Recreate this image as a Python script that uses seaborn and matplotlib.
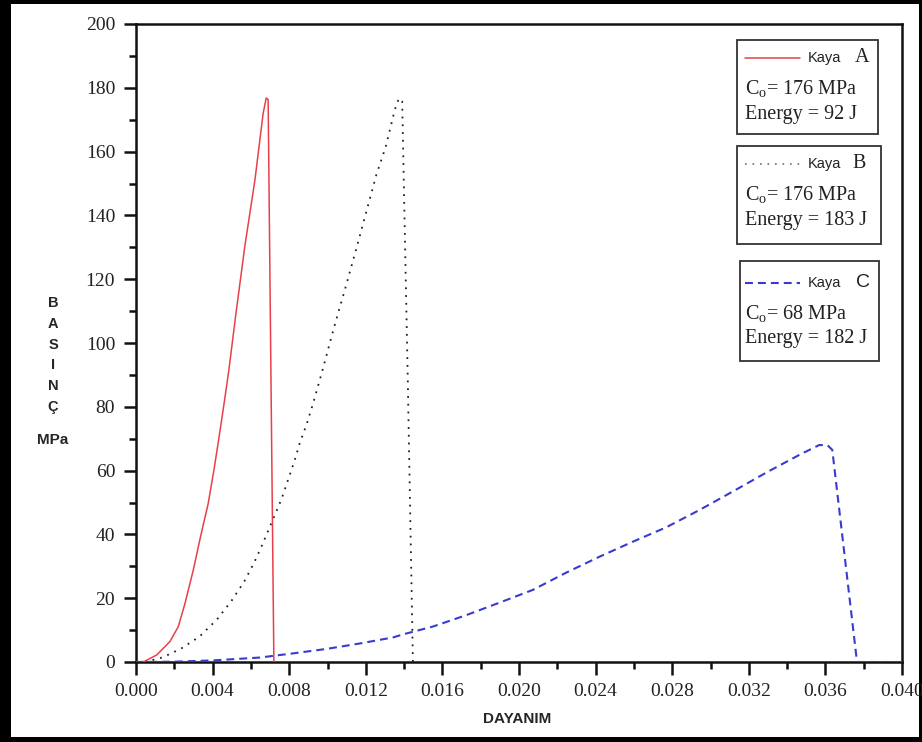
import numpy as np
import pandas as pd
import matplotlib
matplotlib.use("Agg")
import matplotlib.pyplot as plt
import seaborn as sns
from matplotlib.patches import Rectangle
from matplotlib.lines import Line2D
from matplotlib.ticker import MultipleLocator

# Kaya A (red, solid)
strain_a = [0.00038, 0.00108, 0.00177, 0.00221, 0.00256, 0.00299, 0.00337, 0.00377,
            0.00407, 0.00434, 0.00460, 0.00485, 0.00522, 0.00568, 0.00621, 0.00664,
            0.00680, 0.00690, 0.00705, 0.00720]
stress_a = [0, 2.2, 6.4, 11.1, 18.4, 28.8, 39.3, 49.7,
            60.2, 70.6, 81.1, 91.5, 109.3, 130.2, 151.1, 172.0,
            176.8, 176.3, 88.0, 0]

# Kaya B (black, dotted)
strain_b = [0.00047, 0.00142, 0.00238, 0.00330, 0.00421, 0.00499, 0.00565, 0.00615,
            0.00659, 0.00699, 0.00760, 0.00794, 0.00829, 0.00855, 0.00890, 0.00925,
            0.00974, 0.01021, 0.01055, 0.01095, 0.01151, 0.01203, 0.01255, 0.01304,
            0.01351, 0.01373, 0.01390, 0.01419, 0.01446]
stress_b = [0, 1.5, 4.3, 7.9, 13.2, 19.2, 25.2, 30.9,
            36.7, 42.4, 51.1, 57.1, 63.3, 68.6, 74.3, 81.1,
            91.5, 102.0, 109.3, 117.6, 129.7, 141.2, 152.7, 161.5,
            173.0, 176.7, 175.8, 89.0, 0]

# Kaya C (blue, dashed)
strain_c = [0.0, 0.0020, 0.00402, 0.00647, 0.00820, 0.00995, 0.01168, 0.01342,
            0.01403, 0.01550, 0.01725, 0.01898, 0.02072, 0.02246, 0.02420, 0.02594,
            0.02768, 0.02941, 0.03115, 0.03289, 0.03463, 0.03567, 0.03610, 0.03636,
            0.03765, 0.0390, 0.0400]
stress_c = [0, 0.1, 0.5, 1.4, 2.7, 4.1, 5.8, 7.7,
            8.8, 11.1, 14.7, 18.6, 22.6, 28.0, 33.0, 37.7,
            42.2, 47.6, 53.4, 59.3, 64.9, 68.0, 68.0, 66.5,
            0, 0, 0]

legend_kaya = ["A", "B", "C"]
legend_co = ["176", "176", "68"]
legend_energy = ["92", "183", "182"]

sns.set_style("ticks")
plt.rcParams['font.family'] = ['Liberation Serif', 'DejaVu Serif']
plt.rcParams['mathtext.fontset'] = 'custom'
plt.rcParams['mathtext.rm'] = 'Liberation Serif'

W, H = 922, 742
fig = plt.figure(figsize=(W / 100, H / 100), dpi=100)
ax = fig.add_axes([136 / W, 1 - 662 / H, (902 - 136) / W, (662 - 24) / H])

red = '#e8404a'
blue = '#3a3ad0'
dotc = '#202020'

df_a = pd.DataFrame({'x': strain_a, 'y': stress_a})
df_b = pd.DataFrame({'x': strain_b, 'y': stress_b})
df_c = pd.DataFrame({'x': strain_c, 'y': stress_c})

sns.lineplot(data=df_c, x='x', y='y', sort=False, estimator=None, ax=ax,
             color=blue, lw=1.5, linestyle=(0, (3.8, 2.4)), zorder=3)
sns.lineplot(data=df_b, x='x', y='y', sort=False, estimator=None, ax=ax,
             color=dotc, lw=1.3, linestyle=(0, (1, 3.3)), zorder=4)
sns.lineplot(data=df_a, x='x', y='y', sort=False, estimator=None, ax=ax,
             color=red, lw=1.1, zorder=5)

ax.set_xlim(0, 0.040)
ax.set_ylim(0, 200)
ax.xaxis.set_major_locator(MultipleLocator(0.004))
ax.xaxis.set_minor_locator(MultipleLocator(0.002))
ax.yaxis.set_major_locator(MultipleLocator(20))
ax.yaxis.set_minor_locator(MultipleLocator(10))
ax.xaxis.set_major_formatter(matplotlib.ticker.FormatStrFormatter('%.3f'))
ax.set_xlabel('')
ax.set_ylabel('')
for s in ax.spines.values():
    s.set_linewidth(1.8)
    s.set_color('#111111')
ax.tick_params(which='major', direction='out', length=9, width=1.8, labelsize=14,
               colors='#111111', pad=6)
ax.tick_params(which='minor', direction='out', length=5, width=1.8, colors='#111111')
for lab in ax.get_xticklabels() + ax.get_yticklabels():
    lab.set_color('#222222')


def fx(px):
    return px / W


def fy(py):
    return 1 - py / H


# axis titles
fig.text(fx(517), fy(719), 'DAYANIM', family='Liberation Sans', weight='bold',
         fontsize=11, ha='center', va='center')
for i, ch in enumerate(['B', 'A', 'S', 'I', 'N', 'Ç']):
    fig.text(fx(53), fy(303 + i * 20.8), ch, family='Liberation Sans', weight='bold',
             fontsize=10.5, ha='center', va='center')
fig.text(fx(53), fy(440), 'MPa', family='Liberation Sans', weight='bold',
         fontsize=11, ha='center', va='center')

# legend boxes
boxes = [(737, 40, 878, 134), (737, 146, 881, 244), (740, 261, 879, 361)]
line_y = [58, 164, 283]
styles = [dict(color=red, lw=1.1, ls='-'),
          dict(color='#707070', lw=1.2, ls=(0, (1, 3.5))),
          dict(color=blue, lw=1.5, ls=(0, (3.8, 2.4)))]
letter_x = [855, 852, 858]
for i in range(3):
    x0, y0, x1, y1 = boxes[i]
    fig.patches.append(Rectangle((fx(x0), fy(y1)), fx(x1) - fx(x0), fy(y0) - fy(y1),
                                 transform=fig.transFigure, fill=False,
                                 edgecolor='#333333', lw=1.3, figure=fig))
    ly = line_y[i]
    fig.lines.append(Line2D([fx(745), fx(800)], [fy(ly), fy(ly)], transform=fig.transFigure,
                            figure=fig, **styles[i]))
    fig.text(fx(808), fy(ly), 'Kaya', family='Liberation Sans', fontsize=10.5,
             ha='left', va='center', color='#222222')
    if i < 2:
        fig.text(fx(letter_x[i]), fy(ly), legend_kaya[i], fontsize=14.5,
                 ha='left', va='center', color='#222222')
    else:
        fig.text(fx(letter_x[i] - 2), fy(ly), legend_kaya[i], family='Liberation Sans',
                 fontsize=14, ha='left', va='center', color='#222222')
    cy = ly + 29
    fig.text(fx(745), fy(cy + 8), r'C$_{\mathrm{o}}$= ' + legend_co[i] + ' MPa', fontsize=14.5,
             ha='left', va='baseline', color='#222222')
    fig.text(fx(745), fy(cy + 27), 'Energy = ' + legend_energy[i] + ' J', fontsize=14.5,
             ha='left', va='center', color='#222222')

# outer picture frame
for (x, y, w, h, z) in [(0, 0, 11, H, 2), (0, 0, W, 4, 2), (0, H - 5, W, 5, 2),
                        (W - 3, 0, 3, H, -1)]:
    fig.patches.append(Rectangle((fx(x), fy(y + h)), w / W, h / H, transform=fig.transFigure,
                                 color='black', lw=0, figure=fig, zorder=z))

fig.savefig('out.png', dpi=100)
